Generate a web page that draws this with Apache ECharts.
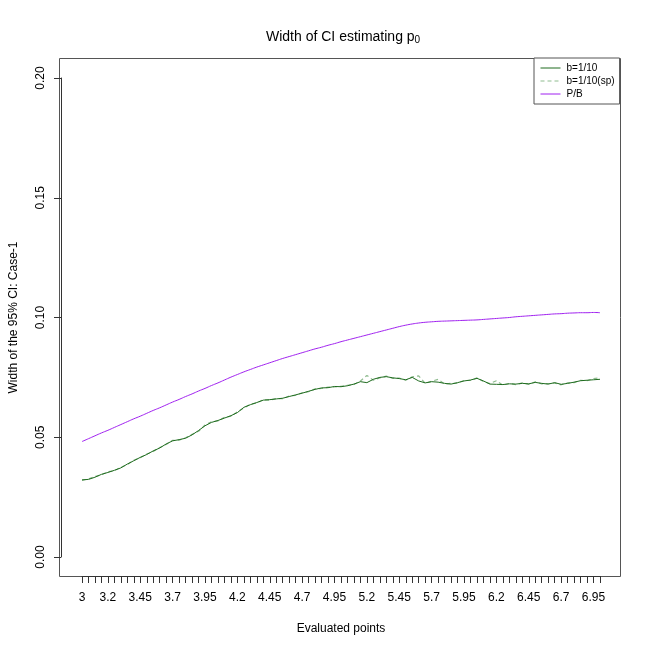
<!DOCTYPE html>
<html lang="en">
<head>
    <meta http-equiv="Content-Type" content="text/html; charset=utf-8"/>
    <title>Width of CI estimating p0</title>
    <script type="text/javascript" src="https://cdn.jsdelivr.net/npm/echarts@6/dist/echarts.min.js"></script>
</head>
<style>
    * {
        margin: 0;
        padding: 0;
    }
    html, body {
        width: 650px;
        height: 650px;
        background: #fff;
    }
    .main {
        width: 650px;
        height: 650px;
    }
</style>
<body>
<div id="main" class="main"></div>
</body>
<script type="text/javascript">

    // evaluated points (x axis)
    var points = ['3', '3.05', '3.1', '3.15', '3.2', '3.25', '3.3', '3.35', '3.4', '3.45',
        '3.5', '3.55', '3.6', '3.65', '3.7', '3.75', '3.8', '3.85', '3.9', '3.95',
        '4', '4.05', '4.1', '4.15', '4.2', '4.25', '4.3', '4.35', '4.4', '4.45',
        '4.5', '4.55', '4.6', '4.65', '4.7', '4.75', '4.8', '4.85', '4.9', '4.95',
        '5', '5.05', '5.1', '5.15', '5.2', '5.25', '5.3', '5.35', '5.4', '5.45',
        '5.5', '5.55', '5.6', '5.65', '5.7', '5.75', '5.8', '5.85', '5.9', '5.95',
        '6', '6.05', '6.1', '6.15', '6.2', '6.25', '6.3', '6.35', '6.4', '6.45',
        '6.5', '6.55', '6.6', '6.65', '6.7', '6.75', '6.8', '6.85', '6.9', '6.95', '7'];

    // b=1/10
    var widthB10 = [0.0322, 0.0324, 0.0333, 0.0345, 0.0353, 0.0362, 0.0372, 0.0388, 0.0402, 0.0416,
        0.0428, 0.0443, 0.0455, 0.0472, 0.0485, 0.0490, 0.0496, 0.0510, 0.0528, 0.0548,
        0.0562, 0.0570, 0.0580, 0.0590, 0.0603, 0.0625, 0.0636, 0.0645, 0.0655, 0.0657,
        0.0660, 0.0663, 0.0670, 0.0677, 0.0684, 0.0692, 0.0700, 0.0706, 0.0707, 0.0712,
        0.0711, 0.0715, 0.0722, 0.0732, 0.0728, 0.0742, 0.0750, 0.0753, 0.0748, 0.0745,
        0.0740, 0.0750, 0.0735, 0.0727, 0.0732, 0.0730, 0.0725, 0.0722, 0.0728, 0.0735,
        0.0739, 0.0746, 0.0735, 0.0722, 0.0721, 0.0720, 0.0723, 0.0722, 0.0725, 0.0723,
        0.0729, 0.0725, 0.0722, 0.0728, 0.0721, 0.0725, 0.0730, 0.0736, 0.0738, 0.0740, 0.0742];

    // b=1/10(sp)
    var widthB10sp = [0.0320, 0.0326, 0.0336, 0.0343, 0.0356, 0.0360, 0.0375, 0.0386, 0.0404, 0.0414,
        0.0430, 0.0441, 0.0457, 0.0470, 0.0487, 0.0488, 0.0498, 0.0512, 0.0525, 0.0551,
        0.0565, 0.0568, 0.0583, 0.0588, 0.0606, 0.0622, 0.0638, 0.0643, 0.0657, 0.0655,
        0.0662, 0.0661, 0.0672, 0.0675, 0.0686, 0.0690, 0.0702, 0.0704, 0.0709, 0.0710,
        0.0713, 0.0717, 0.0720, 0.0735, 0.0758, 0.0738, 0.0748, 0.0755, 0.0746, 0.0747,
        0.0738, 0.0752, 0.0756, 0.0725, 0.0734, 0.0742, 0.0722, 0.0725, 0.0726, 0.0737,
        0.0737, 0.0748, 0.0733, 0.0724, 0.0736, 0.0718, 0.0725, 0.0720, 0.0727, 0.0721,
        0.0731, 0.0723, 0.0724, 0.0726, 0.0719, 0.0727, 0.0728, 0.0738, 0.0736, 0.0745, 0.0748];

    // P/B
    var widthPB = [0.0482, 0.0494, 0.0506, 0.0518, 0.0529, 0.0541, 0.0553, 0.0565, 0.0577, 0.0588,
        0.0600, 0.0612, 0.0623, 0.0635, 0.0647, 0.0658, 0.0670, 0.0681, 0.0693, 0.0704,
        0.0716, 0.0727, 0.0739, 0.0751, 0.0762, 0.0773, 0.0783, 0.0793, 0.0802, 0.0811,
        0.0820, 0.0829, 0.0837, 0.0845, 0.0853, 0.0861, 0.0869, 0.0876, 0.0884, 0.0891,
        0.0899, 0.0906, 0.0913, 0.0920, 0.0927, 0.0934, 0.0941, 0.0948, 0.0955, 0.0962,
        0.0968, 0.0973, 0.0977, 0.0980, 0.0982, 0.0984, 0.0985, 0.0986, 0.0987, 0.0988,
        0.0989, 0.0990, 0.0992, 0.0994, 0.0996, 0.0998, 0.1000, 0.1003, 0.1005, 0.1007,
        0.1009, 0.1011, 0.1013, 0.1015, 0.1016, 0.1018, 0.1019, 0.1020, 0.1020, 0.1021, 0.1020];

    var yTicks = [0, 0.05, 0.10, 0.15, 0.20];

    var font = "'Liberation Sans', Arial, Helvetica, sans-serif";
    var chart = echarts.init(document.getElementById('main'));

    var option = {
        backgroundColor: '#fff',
        animation: false,
        textStyle: {fontFamily: font},
        title: {
            text: 'Width of CI estimating p{sub|0}',
            left: 261,
            top: 24,
            textStyle: {
                fontFamily: font,
                fontSize: 14,
                fontWeight: 'normal',
                color: '#000',
                rich: {
                    sub: {fontFamily: font, fontSize: 10, verticalAlign: 'bottom', padding: [6, 0, 0, 0], color: '#000'}
                }
            }
        },
        // plot box
        graphic: [{
            type: 'rect',
            z: 0,
            shape: {x: 59.5, y: 58.5, width: 561, height: 518},
            style: {fill: 'none', stroke: '#555', lineWidth: 1}
        }],
        legend: {
            orient: 'vertical',
            left: 534,
            top: 58,
            width: 85,
            padding: [5, 5, 5, 6],
            itemGap: 3,
            itemWidth: 20,
            itemHeight: 10,
            backgroundColor: '#fff',
            borderColor: '#555',
            borderWidth: 1,
            borderRadius: 0,
            itemStyle: {opacity: 0},
            lineStyle: {width: 1},
            textStyle: {fontFamily: font, fontSize: 10, color: '#000', padding: [0, 0, 0, 1]},
            data: ['b=1/10', 'b=1/10(sp)', 'P/B'],
            z: 10
        },
        grid: {left: 80, right: 50, top: 78, bottom: 93},
        xAxis: {
            type: 'category',
            data: points,
            boundaryGap: false,
            offset: 19,
            name: 'Evaluated points',
            nameLocation: 'middle',
            nameGap: 47,
            nameTextStyle: {fontFamily: font, fontSize: 12, color: '#000'},
            axisLine: {show: true, onZero: false, lineStyle: {color: '#333', width: 1}},
            axisTick: {show: true, interval: 0, length: 7, lineStyle: {color: '#333'}},
            axisLabel: {
                interval: function (idx) {
                    return idx === 0 || (idx + 1) % 5 === 0;
                },
                margin: 16,
                fontFamily: font,
                fontSize: 12,
                color: '#000'
            },
            splitLine: {show: false}
        },
        yAxis: {
            type: 'value',
            min: yTicks[0],
            max: yTicks[yTicks.length - 1],
            interval: 0.05,
            offset: 21,
            name: 'Width of the 95% CI: Case-1',
            nameLocation: 'middle',
            nameGap: 41,
            nameRotate: 90,
            nameTextStyle: {fontFamily: font, fontSize: 12, color: '#000'},
            axisLine: {show: true, onZero: false, lineStyle: {color: '#333', width: 1}},
            axisTick: {show: true, length: 7, lineStyle: {color: '#333'}},
            axisLabel: {
                rotate: 90,
                margin: 14,
                fontFamily: font,
                fontSize: 12,
                color: '#000',
                formatter: function (v) {
                    return v.toFixed(2);
                }
            },
            splitLine: {show: false}
        },
        series: [
            {
                name: 'b=1/10',
                type: 'line',
                data: widthB10,
                symbol: 'none',
                z: 4,
                lineStyle: {color: '#1f6b1f', width: 1},
                itemStyle: {color: '#1f6b1f'}
            },
            {
                name: 'b=1/10(sp)',
                type: 'line',
                data: widthB10sp,
                symbol: 'none',
                z: 3,
                lineStyle: {color: '#8fbc8f', width: 1.2, type: [4, 3]},
                itemStyle: {color: '#8fbc8f'}
            },
            {
                name: 'P/B',
                type: 'line',
                data: widthPB,
                symbol: 'none',
                smooth: true,
                z: 2,
                lineStyle: {color: '#a020f0', width: 1},
                itemStyle: {color: '#a020f0'}
            }
        ]
    };
    chart.setOption(option);
</script>

</html>
